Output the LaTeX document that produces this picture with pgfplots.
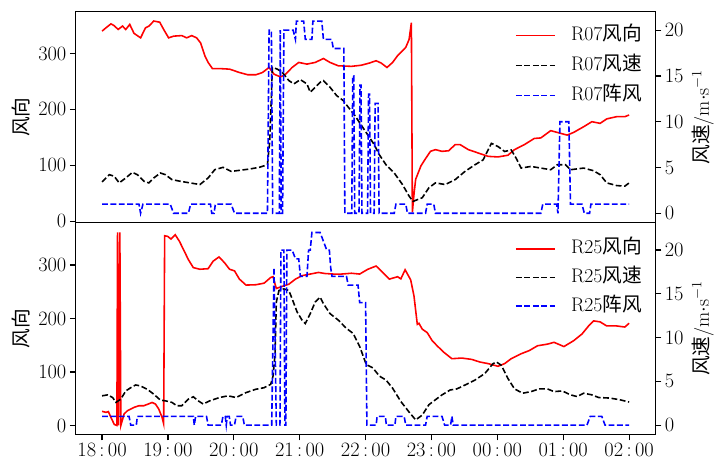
\documentclass[border=0pt]{standalone}
\usepackage{pgfplots}
\pgfplotsset{compat=1.18}
\usepackage{fontspec}
\newfontfamily\cjk{Noto Sans CJK SC}
\definecolor{mred}{RGB}{255,0,0}
\definecolor{mblue}{RGB}{0,0,255}
\pgfplotsset{
  base/.style={
    scale only axis, width=587.3bp, height=214.2bp,
    xmin=-0.4, xmax=8.4,
    axis line style={line width=1.2bp},
    every tick/.style={line width=1.2bp, black},
    tick align=outside,
    major tick length=6bp,
    font=\fontsize{20}{24}\selectfont,
    clip=true,
  },
  dirline/.style={mred, line width=1.6bp, solid},
  spdline/.style={black, line width=1.6bp, dash pattern=on 5.9bp off 2.6bp},
  gstline/.style={mblue, line width=1.6bp, dash pattern=on 5.9bp off 2.6bp},
  leftlab/.style={ylabel style={at={(axis description cs:-0.0948,0.5)}, anchor=center}},
  rightlab/.style={ylabel style={at={(axis description cs:1.082,0.5)}, anchor=center}},
  leg/.style={
    legend cell align=left,
    legend image code/.code={\draw[##1] (0bp,0bp) -- (40bp,0bp);},
    legend style={draw=none, fill=none, inner sep=0pt, row sep=#1,
      nodes={inner sep=0pt, text height=14bp, text depth=4bp},
      column sep=15bp},
  },
}
\pgfplotstableread{
t v
0 340
0.06 346
0.135 353
0.18 350
0.245 343
0.31 349
0.36 343
0.42 352
0.485 336
0.585 328
0.66 346
0.71 349
0.785 358
0.875 356
0.935 343
1.01 328
1.085 331
1.21 332
1.285 328
1.36 332
1.435 328
1.495 319
1.56 296
1.61 284
1.675 273
1.785 273
1.935 272
2.085 266
2.21 262
2.335 262
2.435 266
2.535 275
2.61 263
2.71 258
2.785 263
2.885 275
2.985 284
3.11 281
3.235 284
3.36 291
3.46 284
3.585 278
3.785 277
3.935 279
4.06 283
4.16 287
4.235 283
4.325 275
4.41 284
4.485 296
4.56 305
4.61 311
4.66 325
4.695 355
4.71 16
4.735 49
4.76 75
4.84 99
4.91 112
4.985 125
5.06 128
5.16 125
5.26 126
5.36 137
5.435 137
5.56 128
5.71 122
5.86 116
6.01 115
6.16 118
6.26 128
6.41 137
6.56 148
6.66 149
6.81 162
6.935 158
7.06 154
7.16 159
7.31 169
7.435 178
7.56 175
7.66 183
7.81 187
7.935 187
8.0 190
}\topdir
\pgfplotstableread{
t s
0 3.43
0.11 4.22
0.185 4.04
0.26 3.32
0.36 3.86
0.46 4.47
0.535 4.22
0.635 3.5
0.71 3.32
0.785 3.86
0.885 4.4
0.96 4.22
1.06 3.68
1.185 3.5
1.335 3.32
1.485 3.14
1.61 3.86
1.71 4.76
1.835 5.02
1.96 4.58
2.085 4.69
2.235 4.83
2.385 5.02
2.51 5.3
2.545 7.83
2.585 15.94
2.66 15.75
2.735 15.4
2.835 14.5
2.91 14.13
3.01 14.6
3.11 14.13
3.16 13.23
3.235 13.77
3.31 14.31
3.36 14.49
3.46 13.77
3.56 12.86
3.66 12.32
3.735 11.61
3.835 10.7
3.935 9.62
4.035 8.54
4.135 7.46
4.21 6.38
4.31 5.3
4.435 4.4
4.56 3.14
4.66 1.88
4.72 1.3
4.86 1.7
4.96 2.78
5.06 3.32
5.21 3.14
5.36 3.68
5.51 4.58
5.66 5.3
5.785 5.84
5.91 7.64
6.01 7.29
6.11 6.75
6.21 6.92
6.285 6.02
6.36 4.94
6.51 5.12
6.66 4.94
6.81 4.76
6.91 5.3
7.035 5.3
7.11 4.76
7.31 4.94
7.46 4.65
7.56 4.22
7.66 3.32
7.81 3.03
7.935 2.96
8.0 3.32
}\topspd
\pgfplotstableread{
t g
0 1
0.56 1
0.585 0
0.62 1
1.035 1
1.085 0
1.31 0
1.345 1
1.645 1
1.665 0
1.70 0
1.72 1
1.96 1
2.01 0
2.51 0
2.535 20
2.57 20
2.59 0
2.69 0
2.705 20
2.72 0
2.74 0
2.76 20
2.9 20
2.935 19
2.95 21
3.06 21
3.085 19
3.185 19
3.2 21
3.335 21
3.36 19
3.485 19
3.51 18
3.67 18
3.685 0
3.79 0
3.805 15
3.82 15
3.835 0
3.9 0
3.915 14
3.93 14
3.945 0
4.03 0
4.045 13
4.06 13
4.075 0
4.13 0
4.145 12
4.19 12
4.205 0
4.435 0
4.46 1
4.61 1
4.635 0
4.91 0
4.935 1
5.035 1
5.06 0
6.66 0
6.69 1
6.9 1
6.92 0
6.95 10
7.085 10
7.11 1
7.285 1
7.32 0
7.4 0
7.42 1
8.0 1
}\topgst
\pgfplotstableread{
t v
0 26.4
0.06 24.5
0.095 26
0.135 15
0.185 2
0.225 0
0.235 361
0.25 0
0.27 361
0.285 0
0.335 21.5
0.385 27.6
0.485 33.8
0.56 36.9
0.635 36.9
0.76 43
0.81 40
0.86 30.8
0.91 15.3
0.935 3
0.95 354.6
0.995 353.5
1.045 348.5
1.11 356.5
1.175 344
1.235 329
1.31 310
1.385 295
1.485 292
1.61 293
1.685 307
1.775 315
1.86 304
1.935 292
2.01 289
2.085 273.5
2.185 262.4
2.335 263
2.46 266
2.56 276.6
2.595 278
2.645 256
2.735 260
2.835 264
2.935 273.5
3.035 280
3.16 283
3.285 286
3.385 284
3.51 283
3.635 283
3.785 284.5
3.91 283
4.035 292
4.16 298
4.26 286
4.36 273.5
4.485 278
4.535 274
4.60 291
4.685 272
4.735 241.5
4.785 189
4.81 191
4.86 180
4.935 173.6
5.01 158.6
5.085 149
5.185 137
5.31 124.8
5.46 126
5.61 123.5
5.735 118.6
5.86 115.6
6.01 110.6
6.11 115.6
6.21 124.8
6.36 134
6.485 140
6.61 149
6.76 152
6.86 155.4
7.01 147.5
7.16 158.6
7.285 171
7.385 186
7.46 195.5
7.56 193.6
7.66 186
7.81 186
7.935 184
8.0 191
}\botdir
\pgfplotstableread{
t s
0 3.35
0.085 3.46
0.16 3.16
0.21 2.6
0.285 2.98
0.36 3.91
0.435 4.28
0.51 4.59
0.585 4.48
0.685 4.1
0.785 3.54
0.885 2.86
0.96 2.78
1.06 2.6
1.135 2.22
1.21 2.22
1.31 2.98
1.385 3.24
1.46 2.78
1.535 2.41
1.635 2.78
1.785 3.16
1.91 3.35
2.035 3.16
2.185 3.72
2.335 4.1
2.46 4.28
2.56 4.67
2.595 5.6
2.625 8.05
2.645 14.06
2.685 15.38
2.76 15.56
2.835 15.38
2.885 14.43
2.96 12.93
3.035 12
3.085 11.61
3.16 12.74
3.235 14.06
3.31 14.62
3.36 13.87
3.46 12.74
3.585 12
3.71 11.05
3.81 10.48
3.91 8.99
4.01 6.92
4.11 6.54
4.21 5.6
4.31 5.15
4.41 4.22
4.535 2.7
4.66 1.5
4.76 0.6
4.86 1.15
4.96 2.33
5.06 2.9
5.16 3.46
5.285 4.02
5.385 4.14
5.51 4.59
5.66 5.15
5.81 5.9
5.935 7.03
5.985 7.22
6.06 6.84
6.16 5.34
6.26 4.14
6.385 3.65
6.51 3.83
6.635 4.14
6.76 4.14
6.86 3.83
6.985 3.91
7.11 3.46
7.21 3.27
7.31 3.65
7.435 3.46
7.535 3.16
7.71 3.09
7.86 2.9
8.0 2.64
}\botspd
\pgfplotstableread{
t g
0 1
0.41 1
0.435 0
0.52 0
0.535 1
1.385 1
1.40 0
1.42 1
1.585 1
1.61 0
1.81 0
1.835 1
1.87 1
1.885 0
1.90 1
1.93 1
1.95 0
2.01 0
2.035 1
2.135 1
2.16 0
2.575 0
2.61 18
2.645 0
2.7 0
2.715 20
2.76 20
2.775 0
2.79 0
2.805 20
2.885 20
2.935 19
2.985 19
3.01 17
3.11 17
3.135 20
3.16 20
3.185 22
3.31 22
3.41 20
3.45 20
3.47 18
3.49 17
3.71 17
3.735 16
3.885 16
3.91 14
4.0 14
4.02 0
4.16 0
4.175 1
4.3 1
4.315 0
4.445 0
4.46 1
4.585 1
4.61 0
4.91 0
4.935 1
5.16 1
5.2 0
5.29 0
5.31 1
5.33 0
7.36 0
7.41 1
7.585 1
7.635 0
8.0 0
}\botgst
\begin{document}
\begin{tikzpicture}
\path (-76.7bp,-27bp) rectangle (640.3bp,440bp);
% top panel, left axis
\begin{axis}[base, leftlab, at={(0bp,214.2bp)}, anchor=south west,
  ymin=-3, ymax=375.2, ytick={0,100,200,300}, ytick pos=left,
  xtick=\empty, ylabel={\cjk 风向}]
\addplot[dirline] table[x=t,y=v] {\topdir};
\end{axis}
% top panel, right axis
\begin{axis}[base, rightlab, leg=12.5bp, at={(0bp,214.2bp)}, anchor=south west,
  axis x line=none, axis y line*=right,
  ymin=-1.05, ymax=22.05, ytick={0,5,10,15,20},
  ylabel={{\cjk 风速}/m$\cdot$s$^{-1}$},
  legend style={at={(axis description cs:0.7577,0.93)}, anchor=north west}]
\addlegendimage{dirline}
\addlegendentry{R07{\cjk 风向}}
\addplot[spdline] table[x=t,y=s] {\topspd};
\addlegendentry{R07{\cjk 风速}}
\addplot[gstline] table[x=t,y=g] {\topgst};
\addlegendentry{R07{\cjk 阵风}}
\end{axis}
% bottom panel, left axis
\begin{axis}[base, leftlab, at={(0bp,0bp)}, anchor=south west,
  ymin=-16.6, ymax=378.6, ytick={0,100,200,300}, ytick pos=left,
  xtick={0,1,2,3,4,5,6,7,8}, xtick pos=bottom,
  xticklabels={$18\,{:}\,00$,$19\,{:}\,00$,$20\,{:}\,00$,$21\,{:}\,00$,$22\,{:}\,00$,$23\,{:}\,00$,$00\,{:}\,00$,$01\,{:}\,00$,$02\,{:}\,00$},
  ylabel={\cjk 风向}]
\addplot[dirline] table[x=t,y=v] {\botdir};
\end{axis}
% bottom panel, right axis
\begin{axis}[base, rightlab, leg=11bp, at={(0bp,0bp)}, anchor=south west,
  axis x line=none, axis y line*=right,
  ymin=-1.05, ymax=23.1, ytick={0,5,10,15,20},
  ylabel={{\cjk 风速}/m$\cdot$s$^{-1}$},
  legend style={at={(axis description cs:0.7577,0.92)}, anchor=north west}]
\addlegendimage{dirline}
\addlegendentry{R25{\cjk 风向}}
\addplot[spdline] table[x=t,y=s] {\botspd};
\addlegendentry{R25{\cjk 风速}}
\addplot[gstline] table[x=t,y=g] {\botgst};
\addlegendentry{R25{\cjk 阵风}}
\end{axis}
\end{tikzpicture}
\end{document}
